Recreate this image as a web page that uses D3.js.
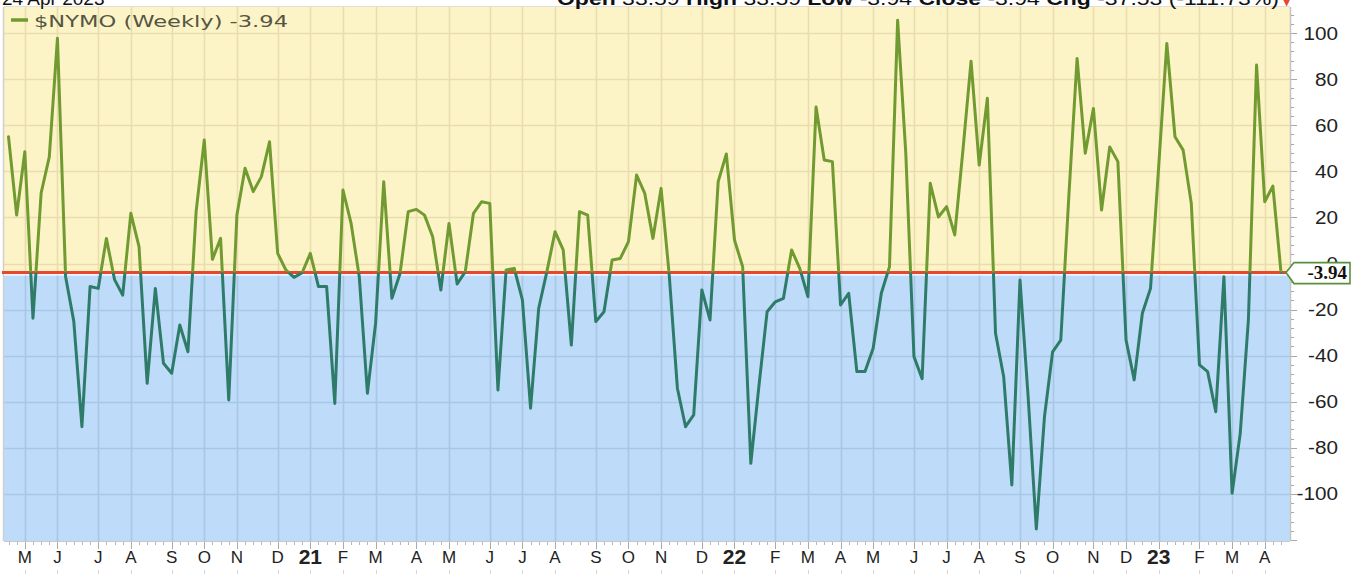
<!DOCTYPE html>
<html>
<head>
<meta charset="utf-8">
<script src="https://cdnjs.cloudflare.com/ajax/libs/d3/7.8.5/d3.min.js"></script>
<style>
  html, body { margin: 0; padding: 0; background: #ffffff; }
  svg { display: block; }
</style>
</head>
<body>
<svg id="chart" width="1356" height="576"></svg>
<script>
// ---------------- data ----------------
const seriesName = "$NYMO (Weekly)";
const lastValue = -3.94;
const headerDate = "24 Apr 2023";
const headerParts = [
  ["Open", "33.59"], ["High", "33.59"], ["Low", "-3.94"], ["Close", "-3.94"], ["Chg", "-37.53 (-111.73%)"]
];
// first weekly bar (week of)
const startWeek = "2020-04-20";
// weekly values, oldest first
const nymo = [
  55, 21, 48.5, -23.7, 30.6, 46.3, 97.7, -5.7, -25, -70.8,
  -10, -10.8, 10.9, -7, -13.7, 21.8, 7.3, -52, -10.8, -43.3,
  -47.6, -26.7, -38.3, 22.5, 53.6, 1.8, 10.9, -59.2, 21, 41.3,
  31.2, 37.7, 52.8, 4.4, -2.8, -6, -4, 4.4, -10, -10,
  -60.7, 31.9, 17.4, -5.7, -56.3, -26, 35.5, -15.1, -4.3, 22.5,
  23.5, 21, 11.6, -11.5, 17.4, -8.9, -3.5, 21.8, 26.8, 26.1,
  -54.9, -2.8, -2.1, -15.8, -62.8, -19.4, -3.5, 13.8, 5.9, -35.4,
  22.5, 21, -25.2, -20.9, 1.5, 2.2, 9.5, 38.4, 30.4, 10.9,
  32.6, -5, -54.1, -70.8, -65.7, -11.5, -24.5, 35.5, 47.5, 10.2,
  -1.4, -86.7, -53, -20.9, -16.6, -15.1, 5.9, -2.1, -14.4, 67.9,
  44.9, 44.2, -18, -12.9, -46.9, -46.9, -36.8, -12.9, -1.4, 105.5,
  47.8, -40.4, -50, 34.8, 20.2, 24.7, 12.4, 49, 87.8, 42.7,
  71.7, -30.3, -49.1, -96.1, -7.2, -58, -115.2, -66.5, -38.3, -33.2,
  30, 89, 47.8, 67.3, 23.2, 50.6, 44.2, -33.2, -50.5, -21.6,
  -10.8, 42, 95.5, 55, 49.2, 26.1, -44, -46.9, -64.3, -5.7,
  -99.7, -73.7, -24.5, 86.1, 26.8, 33.6, -3.94
];
const monthLetters = ["J", "F", "M", "A", "M", "J", "J", "A", "S", "O", "N", "D"];
const yTickValues = [-100, -80, -60, -40, -20, 0, 20, 40, 60, 80, 100];

// ---------------- layout ----------------
const W = 1356, H = 576;
const plot = { left: 4, right: 1290, top: 7, bottom: 541 };
const colors = {
  yellow: "#fcf4c6", blue: "#bedcf9",
  gridYellow: "#e9ddb0", gridBlue: "#a8c7e5",
  lineUp: "#719a31", lineDown: "#2f7b69",
  red: "#e8472c", text: "#222222"
};
const fmt = v => v.toFixed(2);

const svg = d3.select("#chart");
const parse = d3.timeParse("%Y-%m-%d");
const dates = nymo.map((_, i) => d3.timeMonday.offset(parse(startWeek), i));

const x = d3.scaleLinear().domain([-0.552, 157.1]).range([plot.left, plot.right]);
const y = d3.scaleLinear().domain([-120.4, 111.3]).range([plot.bottom, plot.top]);
const yT = y(lastValue);

// month ticks: first weekly bar whose month differs from the previous bar
const monthTicks = [];
dates.forEach((d, i) => {
  if (i > 0 && d.getMonth() !== dates[i - 1].getMonth()) {
    const m = d.getMonth();
    monthTicks.push({
      i,
      label: m === 0 ? String(d.getFullYear()).slice(2) : monthLetters[m],
      year: m === 0
    });
  }
});

const defs = svg.append("defs");
defs.append("clipPath").attr("id", "clipPlot").append("rect")
  .attr("x", plot.left).attr("y", plot.top).attr("width", plot.right - plot.left).attr("height", plot.bottom - plot.top);
defs.append("clipPath").attr("id", "clipUp").append("rect")
  .attr("x", plot.left).attr("y", plot.top).attr("width", plot.right - plot.left).attr("height", yT - plot.top);
defs.append("clipPath").attr("id", "clipDown").append("rect")
  .attr("x", plot.left).attr("y", yT).attr("width", plot.right - plot.left).attr("height", plot.bottom - yT);

// backgrounds
svg.append("rect").attr("x", plot.left).attr("y", plot.top).attr("width", plot.right - plot.left)
  .attr("height", yT - plot.top).attr("fill", colors.yellow);
svg.append("rect").attr("x", plot.left).attr("y", yT).attr("width", plot.right - plot.left)
  .attr("height", plot.bottom - yT).attr("fill", colors.blue);

// gridlines
function grid(g, col) {
  g.selectAll("line.h").data(yTickValues).join("line")
    .attr("x1", plot.left).attr("x2", plot.right)
    .attr("y1", d => Math.round(y(d)) + 0.5).attr("y2", d => Math.round(y(d)) + 0.5)
    .attr("stroke", col).attr("stroke-width", 1.6);
  g.selectAll("line.v").data(monthTicks).join("line")
    .attr("x1", d => Math.round(x(d.i)) + 0.5).attr("x2", d => Math.round(x(d.i)) + 0.5)
    .attr("y1", plot.top).attr("y2", plot.bottom)
    .attr("stroke", col).attr("stroke-width", 1.6);
}
grid(svg.append("g").attr("clip-path", "url(#clipUp)"), colors.gridYellow);
grid(svg.append("g").attr("clip-path", "url(#clipDown)"), colors.gridBlue);

// borders
svg.append("line").attr("x1", plot.left - 0.5).attr("x2", plot.left - 0.5).attr("y1", plot.top).attr("y2", plot.bottom)
  .attr("stroke", "#cfcfcf").attr("stroke-width", 1.5);
svg.append("line").attr("x1", plot.left).attr("x2", plot.right).attr("y1", plot.top - 0.5).attr("y2", plot.top - 0.5)
  .attr("stroke", "#dedede").attr("stroke-width", 1);
svg.append("line").attr("x1", plot.right + 0.5).attr("x2", plot.right + 0.5).attr("y1", plot.top).attr("y2", plot.bottom)
  .attr("stroke", "#c4c4c4").attr("stroke-width", 1.5);
svg.append("line").attr("x1", plot.left).attr("x2", plot.right).attr("y1", plot.bottom + 0.5).attr("y2", plot.bottom + 0.5)
  .attr("stroke", "#c8c8c8").attr("stroke-width", 1);

// threshold red line
svg.append("line").attr("x1", plot.left).attr("x2", plot.right).attr("y1", yT + 2.2).attr("y2", yT + 2.2)
  .attr("stroke", "#ffffff").attr("stroke-width", 1.2);
svg.append("line").attr("x1", plot.left - 2).attr("x2", plot.right).attr("y1", yT).attr("y2", yT)
  .attr("stroke", colors.red).attr("stroke-width", 3);

// series line (extended to the left edge like the reference)
const line = d3.line().x((d, i) => x(i)).y(d => y(d));
const gUp = svg.append("g").attr("clip-path", "url(#clipUp)");
const gDown = svg.append("g").attr("clip-path", "url(#clipDown)");
gUp.append("path").datum(nymo).attr("d", line).attr("fill", "none")
  .attr("stroke", colors.lineUp).attr("stroke-width", 3).attr("stroke-linejoin", "round").attr("stroke-linecap", "round");
gDown.append("path").datum(nymo).attr("d", line).attr("fill", "none")
  .attr("stroke", colors.lineDown).attr("stroke-width", 3).attr("stroke-linejoin", "round").attr("stroke-linecap", "round");

// right axis
const minor = d3.range(-120, 112, 4);
svg.append("g").selectAll("line").data(minor).join("line")
  .attr("x1", plot.right + 1).attr("x2", d => plot.right + (d % 20 === 0 ? 7 : 4))
  .attr("y1", d => Math.round(y(d)) + 0.5).attr("y2", d => Math.round(y(d)) + 0.5)
  .attr("stroke", "#a8a8a8").attr("stroke-width", 1);
svg.append("g").selectAll("text").data(yTickValues).join("text")
  .attr("transform", d => `translate(1338,${y(d) + 6.5}) scale(1.15,1)`)
  .attr("text-anchor", "end")
  .attr("font-family", "Liberation Sans, Arial, sans-serif").attr("font-size", 18)
  .attr("fill", colors.text)
  .text(d => d);

// bottom axis: weekly minor ticks
svg.append("g").selectAll("line").data(nymo.map((_, i) => i)).join("line")
  .attr("x1", i => Math.round(x(i)) + 0.5).attr("x2", i => Math.round(x(i)) + 0.5)
  .attr("y1", plot.bottom + 1).attr("y2", plot.bottom + 4)
  .attr("stroke", "#b8b8b8").attr("stroke-width", 1);
svg.append("g").selectAll("line").data(monthTicks).join("line")
  .attr("x1", d => Math.round(x(d.i)) + 0.5).attr("x2", d => Math.round(x(d.i)) + 0.5)
  .attr("y1", plot.bottom + 1).attr("y2", plot.bottom + 8)
  .attr("stroke", "#aaaaaa").attr("stroke-width", 1);
svg.append("g").selectAll("line").data(monthTicks).join("line")
  .attr("x1", d => Math.round(x(d.i)) + 0.5).attr("x2", d => Math.round(x(d.i)) + 0.5)
  .attr("y1", 570).attr("y2", 574)
  .attr("stroke", "#d4d4d4").attr("stroke-width", 1);
svg.append("g").selectAll("text").data(monthTicks).join("text")
  .attr("x", d => x(d.i)).attr("y", d => d.year ? 564 : 563)
  .attr("text-anchor", "middle")
  .attr("font-family", "Liberation Sans, Arial, sans-serif")
  .attr("font-size", d => d.year ? 21 : 17)
  .attr("font-weight", d => d.year ? "bold" : "normal")
  .attr("fill", colors.text)
  .text(d => d.label);

// current value tag
const tag = svg.append("g").attr("transform", `translate(0,${yT})`);
tag.append("path")
  .attr("d", "M1286,0 L1294,-10 L1350,-10 L1350,11 L1294,11 Z")
  .attr("fill", "#ffffff").attr("stroke", "#5a8f3c").attr("stroke-width", 1.6);
tag.append("text").attr("x", 1347).attr("y", 6.5).attr("text-anchor", "end")
  .attr("font-family", "Liberation Serif, Times New Roman, serif").attr("font-weight", "bold")
  .attr("font-size", 19).attr("fill", "#111").text(fmt(lastValue));

// legend
svg.append("line").attr("x1", 11).attr("x2", 28).attr("y1", 20).attr("y2", 20)
  .attr("stroke", colors.lineUp).attr("stroke-width", 3.5);
svg.append("text").attr("x", 34).attr("y", 27)
  .attr("font-family", "DejaVu Sans, Verdana, sans-serif").attr("font-size", 16)
  .attr("textLength", 254).attr("lengthAdjust", "spacingAndGlyphs")
  .attr("fill", "#555544")
  .text(`${seriesName} ${fmt(lastValue)}`);

// header (cut off at the top edge, as in the reference)
svg.append("text").attr("x", 2).attr("y", 5)
  .attr("font-family", "Liberation Sans, Arial, sans-serif").attr("font-size", 19)
  .attr("fill", "#111").text(headerDate);
const hdr = svg.append("text").attr("x", 557).attr("y", 5)
  .attr("textLength", 722).attr("lengthAdjust", "spacingAndGlyphs")
  .attr("font-family", "Liberation Sans, Arial, sans-serif").attr("font-size", 19).attr("fill", "#111");
headerParts.forEach(([k, v], j) => {
  hdr.append("tspan").attr("font-weight", "bold").text((j ? "  " : "") + k + " ");
  hdr.append("tspan").text(v);
});
svg.append("text").attr("x", 1282).attr("y", 5)
  .attr("font-family", "DejaVu Sans, sans-serif").attr("font-size", 12).attr("fill", colors.red).text("▼");
</script>
</body>
</html>
